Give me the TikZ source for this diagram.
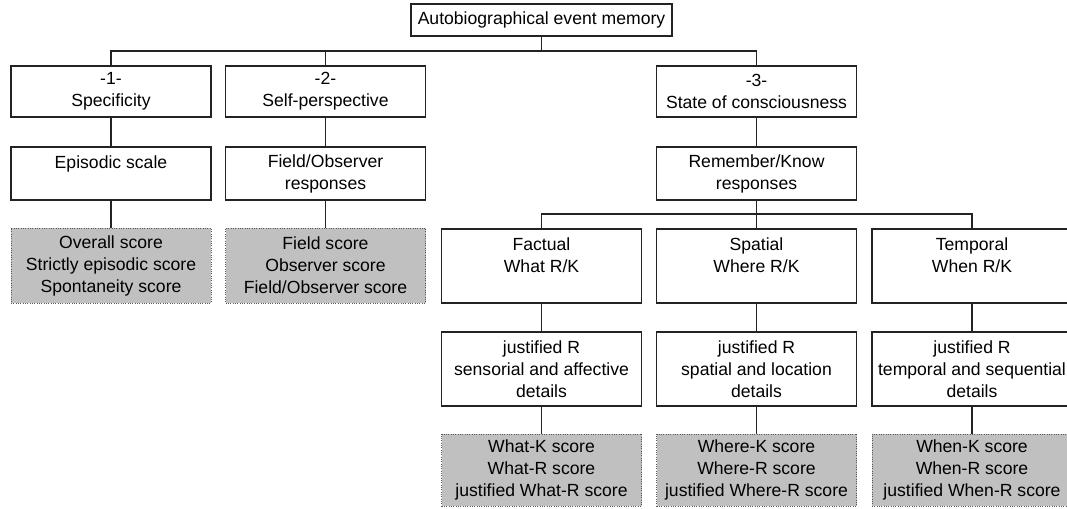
\documentclass[tikz,border=0pt]{standalone}
\usepackage{fontspec}
\setmainfont{Liberation Sans}
\definecolor{boxgrey}{RGB}{192,192,192}
\definecolor{linecol}{RGB}{35,35,35}
\begin{document}
\begin{tikzpicture}[x=0.75pt,y=-0.75pt,
  every node/.style={font=\fontsize{13.2}{16.5}\selectfont, align=center, inner sep=0pt},
  plain/.style={draw=linecol, line width=0.8pt, fill=white, minimum width=150pt},
  scorebox/.style={draw=black!65, densely dotted, line width=0.75pt, fill=boxgrey, minimum width=150pt},
  conn/.style={draw=linecol, line width=0.9pt}]
\useasboundingbox (0,0) rectangle (1067,508);
% top
\node[plain, minimum width=195.75pt, minimum height=24pt] (top) at (541.5,20) {Autobiographical event memory};
% level 1
\node[plain, minimum height=38.25pt] (b1) at (111,91.5) {-1-\\Specificity};
\node[plain, minimum height=38.25pt] (b2) at (325.5,91.5) {-2-\\Self-perspective};
\node[plain, minimum height=38.25pt] (b3) at (756.5,91.5) {-3-\\State of consciousness};
% level 2
\node[plain, minimum height=39.75pt] (c1) at (111,173.5) {Episodic scale\\\mbox{}};
\node[plain, minimum height=39.75pt] (c2) at (325.5,173.5) {Field/Observer\\responses};
\node[plain, minimum height=39.75pt] (c3) at (756.5,173.5) {Remember/Know\\responses};
% scores left
\node[scorebox, minimum height=56.25pt] (g1) at (111,265.5) {Overall score\\Strictly episodic score\\Spontaneity score};
\node[scorebox, minimum height=56.25pt] (g2) at (325.5,265.5) {Field score\\Observer score\\Field/Observer score};
% R/K sub
\node[plain, minimum height=55.5pt] (d1) at (541.5,266) {Factual\\What R/K\\\mbox{}};
\node[plain, minimum height=55.5pt] (d2) at (756.5,266) {Spatial\\Where R/K\\\mbox{}};
\node[plain, minimum height=55.5pt] (d3) at (972,266) {Temporal\\When R/K\\\mbox{}};
% justified
\node[plain, minimum height=55.5pt] (e1) at (541.5,369) {justified R\\sensorial and affective\\details};
\node[plain, minimum height=55.5pt] (e2) at (756.5,369) {justified R\\spatial and location\\details};
\node[plain, minimum height=55.5pt] (e3) at (972,369) {justified R\\temporal and sequential\\details};
% scores bottom
\node[scorebox, minimum height=54pt] (f1) at (541.5,470) {What-K score\\What-R score\\justified What-R score};
\node[scorebox, minimum height=54pt] (f2) at (756.5,470) {Where-K score\\Where-R score\\justified Where-R score};
\node[scorebox, minimum height=54pt] (f3) at (972,470) {When-K score\\When-R score\\justified When-R score};
% connectors
\coordinate (bus1) at (541.5,51);
\coordinate (bus2) at (756.5,214);
\draw[conn] (top.south) -- (bus1);
\draw[conn] (b1.north) |- (bus1);
\draw[conn] (b2.north) |- (bus1);
\draw[conn] (b3.north) |- (bus1);
\draw[conn] (b1.south) -- (c1.north);
\draw[conn] (b2.south) -- (c2.north);
\draw[conn] (b3.south) -- (c3.north);
\draw[conn] (c1.south) -- (g1.north);
\draw[conn] (c2.south) -- (g2.north);
\draw[conn] (c3.south) -- (bus2);
\draw[conn] (d1.north) |- (bus2);
\draw[conn] (d2.north) -- (bus2);
\draw[conn] (d3.north) |- (bus2);
\draw[conn] (d1.south) -- (e1.north);
\draw[conn] (d2.south) -- (e2.north);
\draw[conn] (d3.south) -- (e3.north);
\draw[conn] (e1.south) -- (f1.north);
\draw[conn] (e2.south) -- (f2.north);
\draw[conn] (e3.south) -- (f3.north);
\end{tikzpicture}
\end{document}
